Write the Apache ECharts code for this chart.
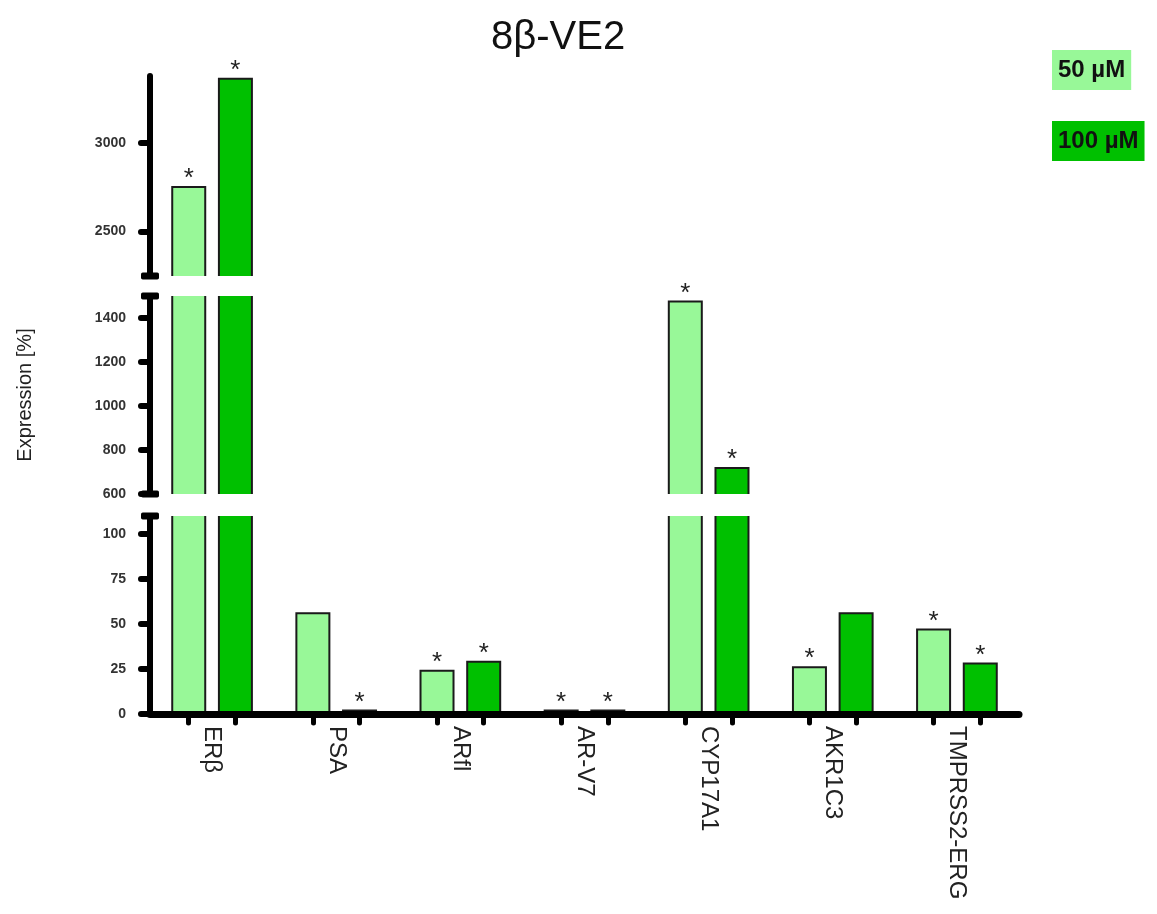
<!DOCTYPE html>
<html>
<head>
<meta charset="utf-8">
<script src="https://cdn.jsdelivr.net/npm/echarts@6/dist/echarts.min.js"></script>
<style>
html,body{margin:0;padding:0;background:#fff;}
#chart{width:1157px;height:914px;}
</style>
</head>
<body>
<div id="chart"></div>
<script>
// ---- data ----
const categories = ['ERβ', 'PSA', 'ARfl', 'AR-V7', 'CYP17A1', 'AKR1C3', 'TMPRSS2-ERG'];
const seriesNames = ['50 µM', '100 µM'];
const dose50 = [2750, 56, 24, 2, 1475, 26, 47];
const dose100 = [3360, 2, 29, 2, 718, 56, 28];
const sig50 = [true, false, true, true, true, true, true];
const sig100 = [true, true, true, true, true, false, true];
// broken y axis segments (bottom, middle, top)
const segMin = [0, 600, 2250];
const segMax = [110, 1500, 3375];
const segTicks = [[0, 25, 50, 75, 100], [600, 800, 1000, 1200, 1400], [2500, 3000]];

// ---- styling ----
const FONT = 'Liberation Sans, Arial, sans-serif';
const colors = ['#98f898', '#00c000'];
const BAR_W = 33;
const BAR_OFFSET = 0.188; // fraction of category band
const gridTops = [516, 296, 76];
const gridHeights = [198, 198, 200];
const GRID_LEFT = 150, GRID_RIGHT = 138;

const values = [dose50, dose100];
const sigs = [sig50, sig100];

function makeRender(seg, k) {
  return function (params, api) {
    const v = api.value(1);
    const lo = segMin[seg], hi = segMax[seg];
    if (!(v > lo)) return null;
    const cat = api.value(0);
    const top = Math.min(v, hi);
    const pTop = api.coord([cat, top]);
    const pBot = api.coord([cat, lo]);
    const band = api.size([1, 0])[0];
    const cx = pTop[0] + (k === 0 ? -1 : 1) * BAR_OFFSET * band;
    const x0 = cx - BAR_W / 2, x1 = cx + BAR_W / 2;
    const children = [{
      type: 'rect',
      shape: { x: x0, y: pTop[1], width: BAR_W, height: pBot[1] - pTop[1] },
      style: { fill: colors[k] }
    }];
    const stroke = { stroke: '#1a1a1a', lineWidth: 2, fill: null };
    const clippedTop = v > hi;
    if (clippedTop) {
      children.push({ type: 'line', shape: { x1: x0, y1: pBot[1], x2: x0, y2: pTop[1] }, style: stroke });
      children.push({ type: 'line', shape: { x1: x1, y1: pBot[1], x2: x1, y2: pTop[1] }, style: stroke });
    } else {
      children.push({ type: 'polyline', shape: { points: [[x0, pBot[1]], [x0, pTop[1]], [x1, pTop[1]], [x1, pBot[1]]] }, style: stroke });
      if (sigs[k][params.dataIndex]) {
        children.push({
          type: 'text', x: cx, y: pTop[1] - 8,
          style: { text: '*', fontSize: 26, fontFamily: FONT, fill: '#222', align: 'center', verticalAlign: 'middle' }
        });
      }
    }
    return { type: 'group', children: children };
  };
}

const grids = [], xAxes = [], yAxes = [], series = [];
const syms = [['none', 'roundRect'], ['roundRect', 'roundRect'], ['roundRect', 'none']];
for (let s = 0; s < 3; s++) {
  grids.push({ left: GRID_LEFT, right: GRID_RIGHT, top: gridTops[s], height: gridHeights[s] });
  if (s === 0) {
    xAxes.push({
      gridIndex: 0, type: 'category', data: categories, z: 3,
      axisLine: { lineStyle: { color: '#000', width: 7, cap: 'round' } },
      axisTick: { show: false },
      axisLabel: { rotate: -90, fontSize: 24, color: '#222', margin: 12, fontFamily: FONT }
    });
  } else {
    xAxes.push({ gridIndex: s, type: 'category', data: categories, show: false });
  }
  yAxes.push({
    gridIndex: s, type: 'value', min: segMin[s], max: segMax[s],
    name: s === 1 ? 'Expression [%]' : '',
    nameLocation: 'middle', nameGap: 115, nameRotate: 90,
    nameTextStyle: { fontSize: 20, color: '#222', fontFamily: FONT },
    axisLine: { show: true, symbol: syms[s], symbolSize: [18, 7], lineStyle: { color: '#000', width: 6, cap: 'round' } },
    axisTick: { show: true, customValues: segTicks[s], length: 9, lineStyle: { color: '#000', width: 6, cap: 'round' } },
    axisLabel: {
      customValues: segTicks[s], fontSize: 14, fontWeight: 'bold', color: '#333', margin: 24, fontFamily: FONT,
      formatter: function (v) { return String(v); }
    },
    splitLine: { show: false }
  });
  for (let k = 0; k < 2; k++) {
    series.push({
      name: seriesNames[k], type: 'custom', xAxisIndex: s, yAxisIndex: s,
      itemStyle: { color: colors[k] },
      encode: { x: 0, y: 1 },
      data: values[k].map((v, i) => [i, v]),
      renderItem: makeRender(s, k)
    });
  }
}
// per-bar tick marks under x axis
const barTicks = [];
categories.forEach((c, i) => { barTicks.push(i + 0.5 - BAR_OFFSET, i + 0.5 + BAR_OFFSET); });
xAxes.push({
  gridIndex: 0, type: 'value', min: 0, max: categories.length, position: 'bottom',
  axisLine: { show: false }, axisLabel: { show: false }, splitLine: { show: false },
  axisTick: { show: true, customValues: barTicks, length: 9, lineStyle: { color: '#000', width: 5, cap: 'round' } }
});

const chart = echarts.init(document.getElementById('chart'), null, { renderer: 'canvas' });
chart.setOption({
  backgroundColor: '#fff',
  animation: false,
  title: { text: '8β-VE2', left: 486, top: 13, textStyle: { fontSize: 40, fontWeight: 'normal', color: '#111', fontFamily: FONT } },
  legend: {
    orient: 'vertical', left: 1042, top: 45, itemGap: 31, itemWidth: 0, itemHeight: 0,
    selectedMode: false,
    data: seriesNames.map((n, k) => ({
      name: n,
      textStyle: { backgroundColor: colors[k], padding: [8, 6, 8, 6], fontSize: 24, fontWeight: 'bold', color: '#111', fontFamily: FONT }
    }))
  },
  grid: grids,
  xAxis: xAxes,
  yAxis: yAxes,
  series: series
});
</script>
</body>
</html>
